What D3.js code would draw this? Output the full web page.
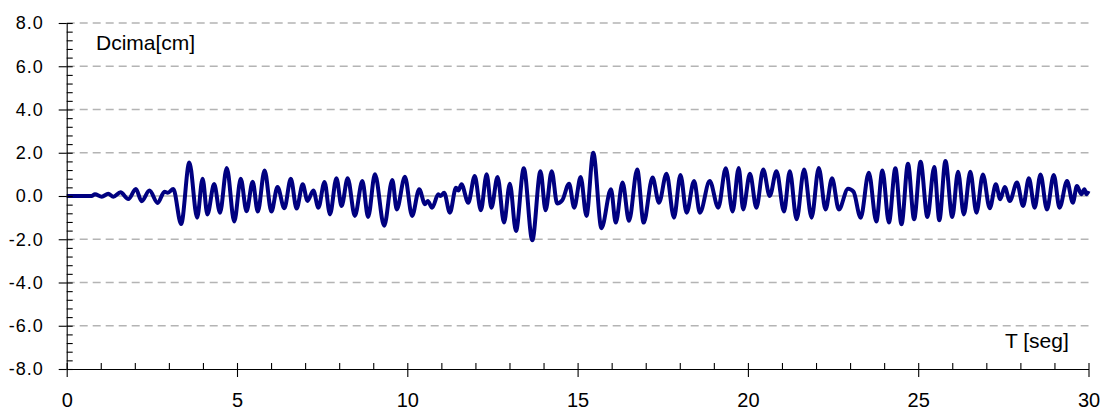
<!DOCTYPE html>
<html>
<head>
<meta charset="utf-8">
<script src="https://cdn.jsdelivr.net/npm/d3@7"></script>
<style>
  html, body { margin: 0; padding: 0; background: #fff; }
  svg { display: block; }
  text { font-family: "Liberation Sans", Arial, sans-serif; fill: #000; }
</style>
</head>
<body>
<svg id="chart" width="1106" height="412"></svg>
<script>
// ---- data ----
const timeSec = [0,0.73,0.83,1.03,1.22,1.37,1.58,1.81,2.03,2.20,2.43,2.67,2.87,2.97,3.13,3.36,3.6,3.83,3.99,4.13,4.33,4.50,4.70,4.92,5.11,5.28,5.46,5.61,5.81,6.01,6.19,6.39,6.58,6.75,6.93,7.07,7.24,7.39,7.57,7.73,7.92,8.07,8.25,8.46,8.68,8.85,9.05,9.32,9.56,9.69,9.93,10.14,10.35,10.52,10.6,10.73,10.91,10.98,11.08,11.25,11.43,11.5,11.59,11.79,11.98,12.16,12.33,12.47,12.65,12.84,13.01,13.19,13.42,13.67,13.91,14.06,14.24,14.40,14.55,14.75,14.90,15.09,15.26,15.46,15.70,15.98,16.12,16.32,16.51,16.75,16.94,17.2,17.39,17.61,17.83,18.02,18.2,18.42,18.59,18.88,19.13,19.35,19.55,19.73,19.86,20.06,20.25,20.45,20.64,20.84,21.06,21.23,21.43,21.65,21.87,22.08,22.28,22.47,22.67,22.94,23.1,23.31,23.55,23.77,23.95,24.14,24.33,24.51,24.7,24.88,25.07,25.27,25.47,25.62,25.8,26.0,26.17,26.34,26.53,26.71,26.9,27.1,27.28,27.41,27.54,27.69,27.9,28.08,28.25,28.42,28.59,28.78,28.98,29.15,29.37,29.54,29.66,29.79,29.88,29.94,30.0];
const dcima = [0,0,0.08,-0.03,0.1,-0.03,0.17,-0.14,0.32,-0.24,0.25,-0.32,0.2,0.15,0.32,-1.3,1.55,-1.0,0.8,-0.85,0.55,-0.77,1.3,-1.18,0.8,-0.7,0.66,-0.72,1.18,-0.72,0.42,-0.57,0.8,-0.58,0.54,-0.23,0.26,-0.54,0.65,-0.85,0.82,-0.46,0.82,-0.92,0.69,-0.97,1.0,-1.38,0.74,-0.62,0.89,-0.92,0.31,-0.38,-0.23,-0.54,0.08,0.0,0.15,-0.77,0.38,0.25,0.54,-0.31,0.92,-0.66,1.0,-0.54,0.88,-1.23,0.57,-1.62,1.28,-2.05,1.15,-0.66,1.15,-0.35,-0.2,0.57,-0.54,0.88,-0.92,2.0,-1.49,0.31,-1.23,0.62,-1.15,1.23,-1.23,0.85,-0.31,1.03,-1.0,0.97,-0.77,0.69,-0.77,0.69,-0.54,1.28,-0.72,1.3,-0.62,1.03,-0.54,1.23,0.0,1.15,-0.72,1.15,-1.08,1.23,-1.0,1.3,-0.62,0.82,-0.62,0.34,0.2,-1.0,1.08,-1.18,1.18,-1.23,1.28,-1.31,1.49,-1.08,1.58,-0.97,1.34,-1.12,1.62,-0.97,1.12,-0.85,1.12,-0.77,1.0,-0.57,0.54,-0.15,0.42,-0.23,0.62,-0.46,0.82,-0.54,1.0,-0.62,0.97,-0.54,0.69,-0.31,0.46,0.08,0.31,0.08,0.23];
const yTicks = [-8,-6,-4,-2,0,2,4,6,8];
const xTicks = [0,5,10,15,20,25,30];
const yTitle = "Dcima[cm]";
const xTitle = "T [seg]";

// ---- layout ----
const L = 66.7, R = 1088.5, T = 23, B = 369;
const svg = d3.select("#chart");
const x = d3.scaleLinear().domain([0, 30]).range([L, R]);
const y = d3.scaleLinear().domain([-8, 8]).range([B, T]);

// gridlines
svg.append("g").selectAll("line")
  .data(yTicks.filter(v => v !== -8))
  .join("line")
  .attr("x1", L).attr("x2", R)
  .attr("y1", d => y(d)).attr("y2", d => y(d))
  .attr("stroke", "#b4b4b4")
  .attr("stroke-width", 1.3)
  .attr("stroke-dasharray", d => d === 0 ? null : "8,5");

// series
const pts = timeSec.map((t, i) => [t, dcima[i]]);
svg.append("path")
  .datum(pts)
  .attr("fill", "none")
  .attr("stroke", "#000080")
  .attr("stroke-width", 4)
  .attr("stroke-linejoin", "round")
  .attr("d", d3.line().x(d => x(d[0])).y(d => y(d[1])).curve(d3.curveMonotoneX));

// Y axis: outward major ticks with labels
const yMajor = svg.append("g").attr("transform", `translate(${L},0)`)
  .call(d3.axisLeft(y).tickValues(yTicks).tickSize(8).tickSizeOuter(0)
    .tickFormat(d => d.toFixed(1)).tickPadding(15));
// Y axis: inward minor ticks
const yMinor = svg.append("g").attr("transform", `translate(${L},0)`)
  .call(d3.axisRight(y).tickValues(d3.range(-8, 8.01, 0.4)).tickSize(6).tickSizeOuter(0).tickFormat(""));
yMinor.select(".domain").remove();

// X axis: outward major ticks with labels
const xMajor = svg.append("g").attr("transform", `translate(0,${B})`)
  .call(d3.axisBottom(x).tickValues(xTicks).tickSize(8).tickSizeOuter(0)
    .tickFormat(d => String(d)).tickPadding(16));
const xMinor = svg.append("g").attr("transform", `translate(0,${B})`)
  .call(d3.axisTop(x).tickValues(d3.range(0, 30.01, 1)).tickSize(6).tickSizeOuter(0).tickFormat(""));
xMinor.select(".domain").remove();

svg.selectAll(".tick line, .domain").attr("stroke", "#000").attr("stroke-width", 1.1);
yMajor.selectAll("text").style("font-size", "18px").attr("letter-spacing", "1px")
  .attr("font-family", "Liberation Sans, Arial, sans-serif");
xMajor.selectAll("text").style("font-size", "20px")
  .attr("font-family", "Liberation Sans, Arial, sans-serif");

// titles
svg.append("text").attr("x", 96).attr("y", 50).style("font-size", "21px").text(yTitle);
svg.append("text").attr("x", 1005).attr("y", 348).style("font-size", "21px").text(xTitle);
</script>
</body>
</html>
